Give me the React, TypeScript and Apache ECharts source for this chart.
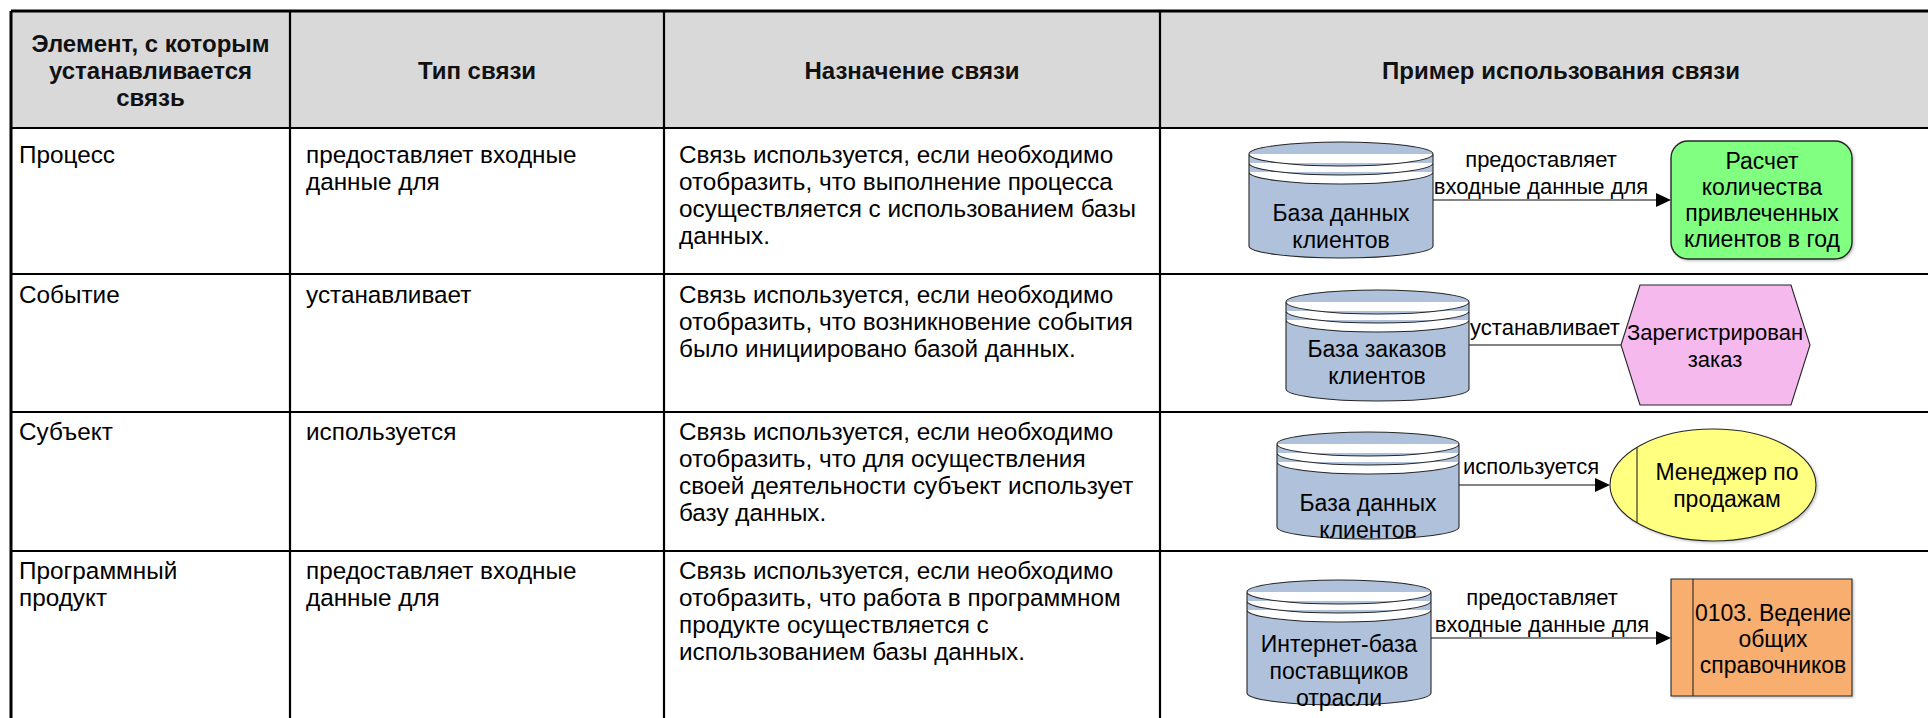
import React, { useEffect, useRef } from "react";
import * as echarts from "echarts";

// ---------- data ----------
const headers = [
  "Элемент, с которым\nустанавливается\nсвязь",
  "Тип связи",
  "Назначение связи",
  "Пример использования связи",
];
const elements = ["Процесс", "Событие", "Субъект", "Программный\nпродукт"];
const linkTypes = [
  "предоставляет входные\nданные для",
  "устанавливает",
  "используется",
  "предоставляет входные\nданные для",
];
const purposes = [
  "Связь используется, если необходимо\nотобразить, что выполнение процесса\nосуществляется с использованием базы\nданных.",
  "Связь используется, если необходимо\nотобразить, что возникновение события\nбыло инициировано базой данных.",
  "Связь используется, если необходимо\nотобразить, что для осуществления\nсвоей деятельности субъект использует\nбазу данных.",
  "Связь используется, если необходимо\nотобразить, что работа в программном\nпродукте осуществляется с\nиспользованием базы данных.",
];
const sources = [
  "База данных\nклиентов",
  "База заказов\nклиентов",
  "База данных\nклиентов",
  "Интернет-база\nпоставщиков\nотрасли",
];
const linkLabels = [
  "предоставляет\nвходные данные для",
  "устанавливает",
  "используется",
  "предоставляет\nвходные данные для",
];
const targets = [
  "Расчет\nколичества\nпривлеченных\nклиентов в год",
  "Зарегистрирован\nзаказ",
  "Менеджер по\nпродажам",
  "0103. Ведение\nобщих\nсправочников",
];
const targetKinds = ["function", "event", "role", "application"];
const arrowed = [true, false, true, true];

// ---------- layout (positions / styles) ----------
const FONT = "'Liberation Sans', Arial, sans-serif";
const FS = 24.3;
const FS_DIA = 23;
const FS_LBL = 22;
const LH = 27;
const TABLE_L = 11;
const TABLE_T = 11;
const TABLE_R = 1962;
const TABLE_B = 760;
const colX = [11, 290, 664, 1160];
const rowY = [11, 128, 274, 412, 551];
const textX = [19, 306, 679];
const firstLine = [154, 294, 431, 570];

const COLORS = {
  header: "#D9D9D9",
  border: "#000000",
  db: "#AFC1DB",
  function: "#80FF80",
  event: "#F5B9EE",
  role: "#FFFF80",
  application: "#F7AE6E",
  stroke: "#262626",
  conn: "#5a5a5a",
};

// geometry of each example row
const dia = [
  {
    cyl: { x: 1249, y: 142, w: 184, h: 116 },
    src: { x: 1341, y: 226.5 },
    line: { x1: 1433, x2: 1671, y: 200 },
    lbl: { x: 1541, y: 172.5 },
    tgt: { x: 1671, y: 141, w: 181, h: 118 },
    tgtText: { x: 1762, y: 200, lh: 26, fs: 23 },
  },
  {
    cyl: { x: 1286, y: 290, w: 183, h: 111 },
    src: { x: 1377, y: 362 },
    line: { x1: 1469, x2: 1621, y: 345 },
    lbl: { x: 1545, y: 327 },
    tgt: { x: 1621, y: 285, w: 189, h: 120 },
    tgtText: { x: 1715, y: 345.5, lh: 27, fs: 22 },
  },
  {
    cyl: { x: 1277, y: 432, w: 182, h: 107 },
    src: { x: 1368, y: 516 },
    line: { x1: 1459, x2: 1610, y: 485 },
    lbl: { x: 1531, y: 466 },
    tgt: { x: 1610, y: 429, w: 206, h: 112 },
    tgtText: { x: 1727, y: 485, lh: 27, fs: 23 },
  },
  {
    cyl: { x: 1247, y: 580, w: 184, h: 125 },
    src: { x: 1339, y: 671 },
    line: { x1: 1431, x2: 1671, y: 638 },
    lbl: { x: 1542, y: 610.5 },
    tgt: { x: 1671, y: 579, w: 181, h: 117 },
    tgtText: { x: 1773, y: 639, lh: 26, fs: 23 },
  },
];

// ---------- custom cylinder shape ----------
const K = 0.5523;
const Cylinder = (echarts.graphic as any).extendShape({
  type: "dbCylinder",
  shape: { x: 0, y: 0, width: 0, height: 0, ry: 12, stripe: 9 },
  buildPath(ctx: any, s: any) {
    const x = s.x;
    const w = s.width;
    const rx = w / 2;
    const cx = x + rx;
    const ry = s.ry;
    const top = s.y + ry;
    const bot = s.y + s.height - ry;
    ctx.moveTo(x, top);
    ctx.bezierCurveTo(x, top - K * ry, cx - K * rx, top - ry, cx, top - ry);
    ctx.bezierCurveTo(cx + K * rx, top - ry, x + w, top - K * ry, x + w, top);
    ctx.lineTo(x + w, bot);
    ctx.bezierCurveTo(x + w, bot + K * ry, cx + K * rx, bot + ry, cx, bot + ry);
    ctx.bezierCurveTo(cx - K * rx, bot + ry, x, bot + K * ry, x, bot);
    ctx.closePath();
    for (let i = 0; i < 3; i++) {
      const yy = top + i * s.stripe;
      ctx.moveTo(x, yy);
      ctx.bezierCurveTo(x, yy + K * ry, cx - K * rx, yy + ry, cx, yy + ry);
      ctx.bezierCurveTo(cx + K * rx, yy + ry, x + w, yy + K * ry, x + w, yy);
    }
  },
});
echarts.graphic.registerShape("dbCylinder", Cylinder);

function txt(x: number, y: number, text: string, opts: any = {}) {
  return {
    type: "text",
    x,
    y,
    silent: true,
    style: {
      text,
      fill: opts.fill || "#000",
      fontSize: opts.fontSize || FS,
      fontFamily: FONT,
      fontWeight: opts.fontWeight || "normal",
      align: opts.align || "left",
      verticalAlign: opts.verticalAlign || "top",
      lineHeight: opts.lineHeight || LH,
    },
  };
}

function buildElements() {
  const els: any[] = [];
  els.push({
    type: "rect",
    shape: { x: TABLE_L, y: TABLE_T, width: TABLE_R - TABLE_L, height: rowY[1] - TABLE_T },
    style: { fill: COLORS.header },
  });
  const colRight = [colX[1], colX[2], colX[3], TABLE_R];
  headers.forEach((h, i) => {
    const cx = (colX[i] + colRight[i]) / 2;
    els.push(
      txt(cx, 70, h, { fontWeight: "bold", align: "center", verticalAlign: "middle", fill: "#111", fontSize: 24 })
    );
  });
  for (let r = 0; r < 4; r++) {
    const top = firstLine[r] - LH / 2;
    els.push(txt(textX[0], top, elements[r]));
    els.push(txt(textX[1], top, linkTypes[r]));
    els.push(txt(textX[2], top, purposes[r]));
  }
  rowY.forEach((y, i) => {
    els.push({
      type: "line",
      shape: { x1: TABLE_L, y1: y, x2: TABLE_R, y2: y },
      style: { stroke: COLORS.border, lineWidth: i === 0 ? 3 : 2.2 },
    });
  });
  colX.forEach((x, i) => {
    els.push({
      type: "line",
      shape: { x1: x, y1: TABLE_T, x2: x, y2: TABLE_B },
      style: { stroke: COLORS.border, lineWidth: i === 0 ? 3 : 2.2 },
    });
  });

  dia.forEach((d, r) => {
    const shadow = { shadowBlur: 2, shadowOffsetX: 1.5, shadowOffsetY: 1.5, shadowColor: "rgba(0,0,0,0.22)" };
    const tipX = d.line.x2;
    els.push({
      type: "line",
      shape: { x1: d.line.x1, y1: d.line.y, x2: arrowed[r] ? tipX - 12 : tipX, y2: d.line.y },
      style: { stroke: COLORS.conn, lineWidth: 1.3 },
    });
    if (arrowed[r]) {
      els.push({
        type: "polygon",
        shape: { points: [[tipX, d.line.y], [tipX - 15, d.line.y - 7], [tipX - 15, d.line.y + 7]] },
        style: { fill: "#000" },
      });
    }
    els.push(txt(d.lbl.x, d.lbl.y, linkLabels[r], { align: "center", verticalAlign: "middle", fontSize: FS_LBL }));

    els.push({
      type: "dbCylinder",
      shape: { x: d.cyl.x, y: d.cyl.y, width: d.cyl.w, height: d.cyl.h, ry: 12, stripe: 9 },
      style: { fill: COLORS.db, stroke: COLORS.stroke, lineWidth: 1.1 },
    });
    els.push(txt(d.src.x, d.src.y, sources[r], { align: "center", verticalAlign: "middle", fontSize: FS_DIA }));

    const t = d.tgt;
    const kind = targetKinds[r];
    if (kind === "function") {
      els.push({
        type: "rect",
        shape: { x: t.x, y: t.y, width: t.w, height: t.h, r: 17 },
        style: { fill: COLORS.function, stroke: COLORS.stroke, lineWidth: 1.4, ...shadow },
      });
    } else if (kind === "event") {
      const ins = 19;
      const my = t.y + t.h / 2;
      els.push({
        type: "polygon",
        shape: {
          points: [
            [t.x, my],
            [t.x + ins, t.y],
            [t.x + t.w - ins, t.y],
            [t.x + t.w, my],
            [t.x + t.w - ins, t.y + t.h],
            [t.x + ins, t.y + t.h],
          ],
        },
        style: { fill: COLORS.event, stroke: COLORS.stroke, lineWidth: 1.1 },
      });
    } else if (kind === "role") {
      const cx = t.x + t.w / 2;
      const cy = t.y + t.h / 2;
      const rx = t.w / 2;
      const ry = t.h / 2;
      els.push({
        type: "ellipse",
        shape: { cx, cy, rx, ry },
        style: { fill: COLORS.role, stroke: COLORS.stroke, lineWidth: 1.1, ...shadow },
      });
      const lx = t.x + 27;
      const dy = ry * Math.sqrt(1 - Math.pow((lx - cx) / rx, 2));
      els.push({
        type: "line",
        shape: { x1: lx, y1: cy - dy, x2: lx, y2: cy + dy },
        style: { stroke: COLORS.stroke, lineWidth: 1.1 },
      });
    } else {
      els.push({
        type: "rect",
        shape: { x: t.x, y: t.y, width: t.w, height: t.h },
        style: { fill: COLORS.application, stroke: COLORS.stroke, lineWidth: 1.1, ...shadow },
      });
      els.push({
        type: "line",
        shape: { x1: t.x + 22, y1: t.y, x2: t.x + 22, y2: t.y + t.h },
        style: { stroke: COLORS.stroke, lineWidth: 1.1 },
      });
    }
    els.push(
      txt(d.tgtText.x, d.tgtText.y, targets[r], {
        align: "center",
        verticalAlign: "middle",
        lineHeight: d.tgtText.lh,
        fontSize: d.tgtText.fs,
      })
    );
  });
  return els;
}

export default function App() {
  const ref = useRef<HTMLDivElement>(null);
  useEffect(() => {
    if (!ref.current) return;
    const chart = echarts.init(ref.current, undefined, { renderer: "svg" });
    chart.setOption({
      animation: false,
      backgroundColor: "#ffffff",
      graphic: { elements: buildElements() },
    });
    return () => chart.dispose();
  }, []);
  return (
    <div
      ref={ref}
      style={{ position: "absolute", left: 0, top: 0, width: 1928, height: 718, background: "#fff" }}
    />
  );
}
